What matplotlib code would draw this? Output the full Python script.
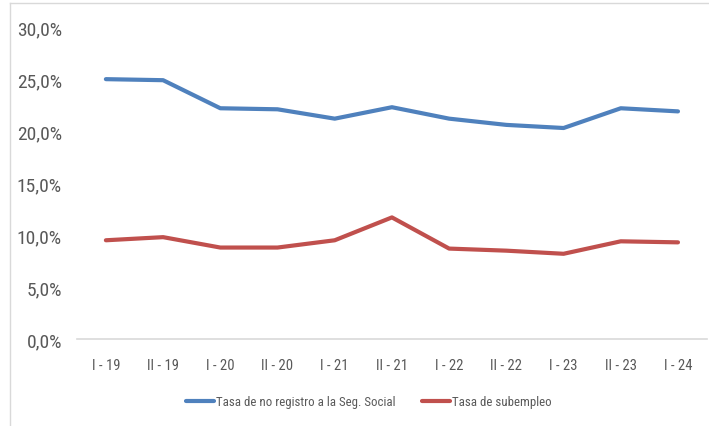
import matplotlib
matplotlib.use("Agg")
import matplotlib.pyplot as plt
from matplotlib.ticker import FuncFormatter
from matplotlib.lines import Line2D
from matplotlib import font_manager

categories = ["I - 19", "II - 19", "I - 20", "II - 20", "I - 21", "II - 21",
              "I - 22", "II - 22", "I - 23", "II - 23", "I - 24"]
no_registro = [25.0, 24.9, 22.2, 22.1, 21.2, 22.3, 21.2, 20.6, 20.3, 22.2, 21.9]
subempleo = [9.5, 9.8, 8.8, 8.8, 9.5, 11.7, 8.7, 8.5, 8.2, 9.4, 9.3]
yticks = [0, 5, 10, 15, 20, 25, 30]

names = {f.name for f in font_manager.fontManager.ttflist}
fam = "DejaVu Sans"
for cand in ["Roboto Condensed", "Open Sans Condensed", "Archivo Narrow", "Asap Condensed",
             "Barlow Condensed", "Liberation Sans"]:
    if cand in names:
        fam = cand
        break
plt.rcParams['font.family'] = [fam, 'DejaVu Sans']

fig = plt.figure(figsize=(7.09, 4.27), dpi=100)
ax = fig.add_axes([0.109, 0.2037, 0.8876, 0.7303])
x = list(range(len(categories)))
ax.plot(x, no_registro, color="#4F81BD", lw=3, solid_capstyle="round",
        label="Tasa de no registro a la Seg. Social")
ax.plot(x, subempleo, color="#C0504D", lw=3, solid_capstyle="round",
        label="Tasa de subempleo")
ax.set_xlim(-0.5, len(categories) - 0.5)
ax.set_ylim(0, 30)
ax.set_yticks(yticks)
ax.yaxis.set_major_formatter(FuncFormatter(lambda v, p: f"{v:.1f}%".replace(".", ",")))
ax.set_xticks(x)
ax.set_xticklabels(categories)
for s in ["top", "right", "left"]:
    ax.spines[s].set_visible(False)
ax.spines["bottom"].set_color("#D9D9D9")
ax.spines["bottom"].set_linewidth(1.2)
ax.tick_params(axis="both", length=0, colors="#595959")
ax.tick_params(axis="y", labelsize=14, pad=11)
ax.tick_params(axis="x", labelsize=10.5, pad=14)

leg = fig.legend(loc="center", bbox_to_anchor=(0.52, 1 - 403 / 427), ncol=2, frameon=False,
                 fontsize=9.3, handlelength=2.2, columnspacing=2.0, handletextpad=0.15)
for t in leg.get_texts():
    t.set_color("#595959")

fig.add_artist(Line2D([10 / 709, 10 / 709], [0, 1 - 4 / 427], transform=fig.transFigure,
                      color="#D9D9D9", lw=1))
fig.add_artist(Line2D([10 / 709, 1], [1 - 4 / 427, 1 - 4 / 427], transform=fig.transFigure,
                      color="#D9D9D9", lw=1))
fig.savefig("out.png", dpi=100)
